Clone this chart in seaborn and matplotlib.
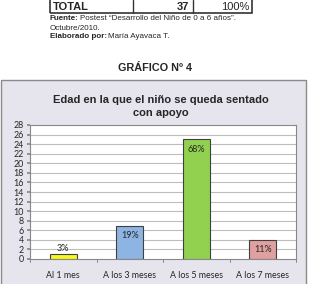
import matplotlib
matplotlib.use("Agg")
import matplotlib.pyplot as plt
import seaborn as sns
import pandas as pd
from matplotlib.patches import Rectangle

categories = ["Al 1 mes", "A los 3 meses", "A los 5 meses", "A los 7 meses"]
values = [1, 7, 25, 4]
pct_labels = ["3%", "19%", "68%", "11%"]
colors = ["#f7f71e", "#8db4e2", "#92d050", "#e0a0a0"]
yticks = list(range(0, 29, 2))
table_row = ["TOTAL", "37", "100%"]

sns.set_theme(style="white")
plt.rcParams["font.family"] = ["Liberation Sans", "DejaVu Sans"]

W, H = 309, 284
fig = plt.figure(figsize=(W / 100, H / 100), dpi=100)
fig.patch.set_facecolor("white")
renderer = fig.canvas.get_renderer()

def fx(px):
    return px / W

def fy(py):
    return 1 - py / H

def bold_then_normal(x, y, bold, normal, size):
    t = fig.text(fx(x), fy(y), bold, fontsize=size, fontweight="bold", va="center", ha="left")
    bb = t.get_window_extent(renderer=renderer)
    fig.text(bb.x1 / fig.bbox.width + fx(1.5), fy(y), normal, fontsize=size, va="center", ha="left")

# Table row at top
fig.add_artist(Rectangle((fx(50), fy(13)), fx(252) - fx(50), fy(0) - fy(13) + 0.01,
                         transform=fig.transFigure, fill=False, edgecolor="#333333", lw=1.2))
for xb in (133, 193):
    fig.add_artist(plt.Line2D([fx(xb), fx(xb)], [fy(13), fy(0)], transform=fig.transFigure,
                              color="#333333", lw=1))
fig.text(fx(53), fy(7), table_row[0], fontsize=8, fontweight="bold", va="center", ha="left")
fig.text(fx(189), fy(7), table_row[1], fontsize=8, fontweight="bold", va="center", ha="right")
fig.text(fx(249), fy(7), table_row[2], fontsize=8, va="center", ha="right")

bold_then_normal(50, 19, "Fuente:", "Postest \u201cDesarrollo del Niño de 0 a 6 años\u201d.", 5.8)
fig.text(fx(50), fy(28), "Octubre/2010.", fontsize=5.8, va="center", ha="left")
bold_then_normal(50, 37, "Elaborado por:", "María Ayavaca T.", 5.8)

fig.text(fx(155), fy(68), "GRÁFICO Nº 4", fontsize=7.8, fontweight="bold", va="center", ha="center")

# Chart box
box = Rectangle((fx(1.5), fy(290)), fx(305.5) - fx(1.5), fy(80) - fy(290),
                transform=fig.transFigure, facecolor="#e6e5ee", edgecolor="#8a8a8a", lw=1, zorder=-5)
fig.add_artist(box)
fig.text(fx(161), fy(106.5), "Edad en la que el niño se queda sentado\ncon apoyo",
         fontsize=8, fontweight="bold", va="center", ha="center", linespacing=1.4)

ax = fig.add_axes([fx(30), fy(259), fx(296) - fx(30), fy(125) - fy(259)])
ax.set_zorder(2)
ax.set_facecolor("white")
df = pd.DataFrame({"cat": categories, "val": values})
sns.barplot(data=df, x="cat", y="val", hue="cat", palette=colors, width=0.41, saturation=1,
            edgecolor="#404040", linewidth=0.8, legend=False, ax=ax, zorder=3)
ax.set_ylim(0, 28)
ax.set_yticks(yticks)
ax.set_yticklabels([str(t) for t in yticks], fontsize=6.4, family=["Lato", "DejaVu Sans"])
for t in yticks[1:-1]:
    ax.axhline(t, color="#bdbdbd", lw=0.8, zorder=1)
ax.set_xlim(-0.5, 3.5)
ax.set_xticks(range(4))
ax.set_xticklabels(categories, fontsize=6.4, family=["Lato", "DejaVu Sans"])
ax.set_xlabel("")
ax.set_ylabel("")
ax.tick_params(axis="x", length=0, pad=9)
ax.tick_params(axis="y", length=2.5, pad=2, left=True, color="#888888")
for x in [0.5, 1.5, 2.5, 3.5, -0.5]:
    ax.plot([x, x], [0, -0.6], color="#888888", lw=0.7, clip_on=False, zorder=4)
for s in ax.spines.values():
    s.set_color("#888888")
    s.set_linewidth(0.8)

for i, (v, lab) in enumerate(zip(values, pct_labels)):
    if i == 0:
        ax.text(i, v + 0.3, lab, ha="center", va="bottom", fontsize=6.5, family=["Lato", "DejaVu Sans"], zorder=5)
    else:
        ax.text(i, v - 1.1, lab, ha="center", va="top", fontsize=6.5, family=["Lato", "DejaVu Sans"], zorder=5)

fig.savefig("out.png", dpi=100)
